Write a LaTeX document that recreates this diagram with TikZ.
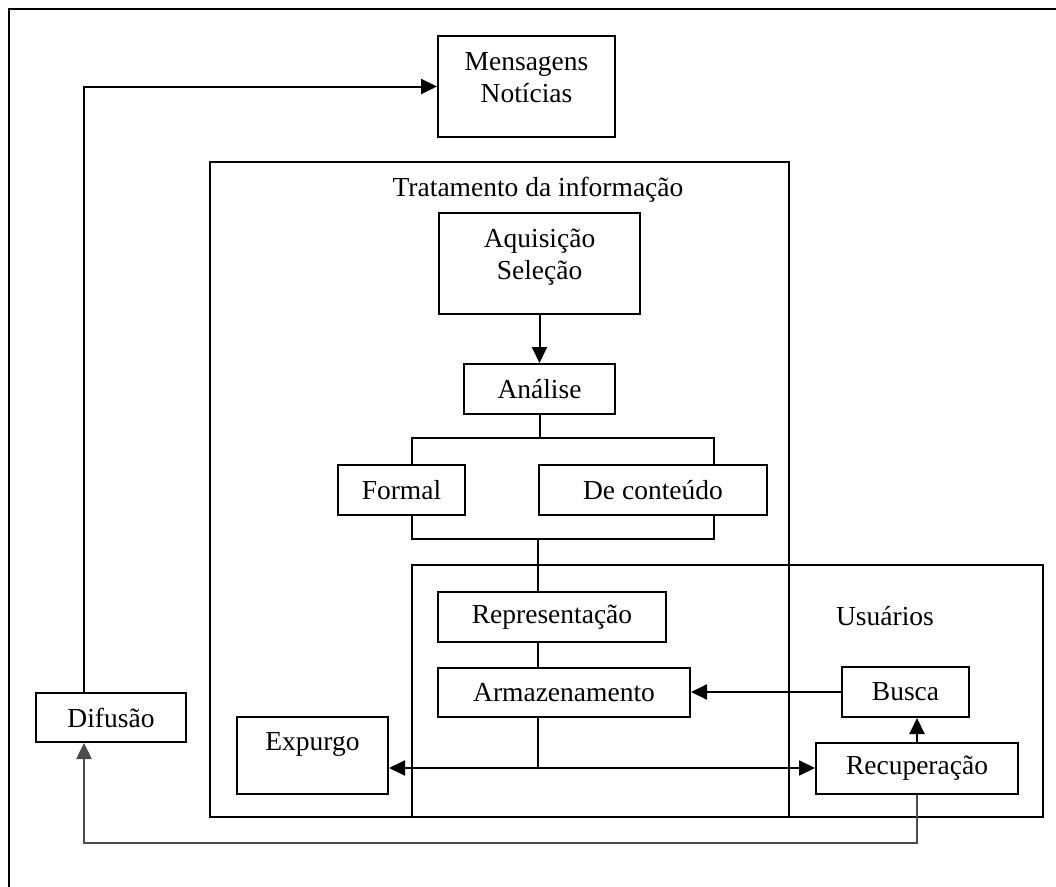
\documentclass[tikz,border=0pt]{standalone}
\usepackage{fontspec}
\setmainfont{Liberation Serif}
\usetikzlibrary{arrows.meta}
\begin{document}
\begin{tikzpicture}[x=1pt,y=-1pt,
  every node/.style={font=\fontsize{27.5}{32}\selectfont},
  box/.style={draw, line width=2pt, inner sep=0pt, anchor=north west, align=center},
  frame/.style={draw, line width=2pt},
  ln/.style={line width=2pt},
  arr/.style={ln, -{Triangle[length=16pt,width=15pt]}},
  darr/.style={ln, {Triangle[length=16pt,width=15pt]}-{Triangle[length=16pt,width=15pt]}},
  back/.style={line width=2.6pt, black!70},
  lbl/.style={inner sep=0pt}
]
\useasboundingbox (0,0) rectangle (1056,886);
\clip (0,0) rectangle (1056,886);
\fill[white] (0,0) rectangle (1056,886);

% frames
\draw[frame] (9,9) rectangle (1120,960);
\draw[frame] (210,162) rectangle (789,817);
\draw[frame] (412,565) rectangle (1043,817);

% labels
\node[lbl] (trat) at (538,190) {Tratamento da informação};
\node[lbl] (usu) at (885,616) {Usuários};

% boxes
\node[box, minimum width=177pt, minimum height=101pt] (msg) at (437,35)
  {\raisebox{6pt}[\height][\depth]{\begin{tabular}{@{}c@{}}Mensagens\\Notícias\end{tabular}}};
\node[box, minimum width=201pt, minimum height=101pt] (aq) at (438,212)
  {\raisebox{6pt}[\height][\depth]{\begin{tabular}{@{}c@{}}Aquisição\\Seleção\end{tabular}}};
\node[box, minimum width=151pt, minimum height=50pt] (ana) at (463,363) {Análise};
\node[box, minimum width=127pt, minimum height=50pt] (formal) at (337,464) {Formal};
\node[box, minimum width=228pt, minimum height=50pt] (cont) at (538,464) {De conteúdo};
\node[box, minimum width=228pt, minimum height=50pt] (repr) at (437,591) {Representação};
\node[box, minimum width=252pt, minimum height=49pt] (armaz) at (437,667) {Armazenamento};
\node[box, minimum width=127pt, minimum height=50pt] (busca) at (841,666) {Busca};
\node[box, minimum width=202pt, minimum height=51pt] (recup) at (815,742) {Recuperação};
\node[box, minimum width=151pt, minimum height=77pt] (exp) at (236,716)
  {\raisebox{11pt}[\height][\depth]{Expurgo}};
\node[box, minimum width=150pt, minimum height=49pt] (dif) at (35,692) {Difusão};

% helper coordinates
\coordinate (tl) at (412,438);
\coordinate (tr) at (714,438);
\coordinate (bl) at (412,539);
\coordinate (br) at (714,539);
\coordinate (bc) at (538,539);
\coordinate (jn) at (538,768);
\coordinate (fb) at (84,843);

% connectors
\draw[arr] (aq.south) -- (ana.north);
\draw[ln] (ana.south) -- (ana.south |- tl);
\draw[ln] (formal.north -| tl) -- (tl) -- (tr) -- (cont.north -| tr);
\draw[ln] (formal.south -| bl) -- (bl) -- (br) -- (cont.south -| br);
\draw[ln] (bc) -- (repr.north -| bc);
\draw[ln] (repr.south -| bc) -- (armaz.north -| bc);
\draw[ln] (armaz.south -| jn) -- (jn);
\draw[darr] (exp.east |- jn) -- (recup.west |- jn);
\draw[arr] (busca.west) -- (armaz.east |- busca.west);
\draw[arr] (recup.north) -- (recup.north |- busca.south);
\draw[back, -{Triangle[length=16pt,width=15pt]}] (recup.south) |- (fb) -- (dif.south -| fb);
\draw[arr] (dif.north -| fb) |- (msg.west);
\end{tikzpicture}
\end{document}
